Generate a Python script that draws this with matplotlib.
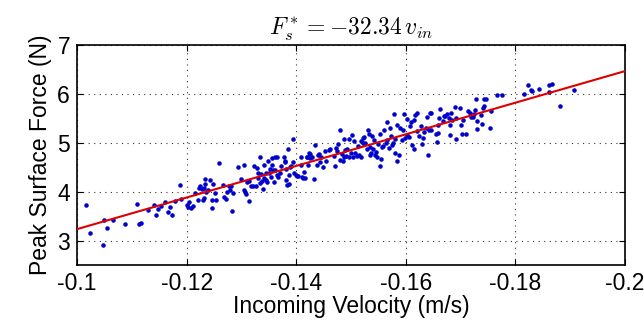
import matplotlib
matplotlib.use("Agg")
import matplotlib.pyplot as plt
import numpy as np

plt.rcParams['font.family'] = ['Liberation Sans', 'DejaVu Sans']
plt.rcParams['mathtext.fontset'] = 'cm'
plt.rcParams['axes.unicode_minus'] = False

# fitted slope of the line
slope = -32.34

# measured points: incoming velocity (m/s) and peak surface force (N)
velocity = -np.array([
    0.1016, 0.1024, 0.1047, 0.1050, 0.1055, 0.1066, 0.1087, 0.1110, 0.1114, 0.1116,
    0.1130, 0.1141, 0.1145, 0.1148, 0.1153, 0.1161, 0.1166, 0.1169, 0.1173, 0.1179,
    0.1187, 0.1189, 0.1200, 0.1203, 0.1205, 0.1208, 0.1212, 0.1215, 0.1220, 0.1223,
    0.1225, 0.1228, 0.1230, 0.1231, 0.1232, 0.1233, 0.1234, 0.1236, 0.1239, 0.1243,
    0.1246, 0.1247, 0.1249, 0.1251, 0.1254, 0.1259, 0.1266, 0.1268, 0.1272, 0.1273,
    0.1277, 0.1279, 0.1281, 0.1283, 0.1285, 0.1294, 0.1300, 0.1304, 0.1305, 0.1306,
    0.1309, 0.1311, 0.1313, 0.1314, 0.1317, 0.1322, 0.1323, 0.1326, 0.1328, 0.1330,
    0.1331, 0.1333, 0.1334, 0.1336, 0.1338, 0.1339, 0.1341, 0.1342, 0.1344, 0.1345,
    0.1347, 0.1349, 0.1351, 0.1352, 0.1354, 0.1355, 0.1356, 0.1357, 0.1360, 0.1361,
    0.1362, 0.1364, 0.1365, 0.1367, 0.1370, 0.1372, 0.1378, 0.1379, 0.1380, 0.1381,
    0.1382, 0.1383, 0.1385, 0.1386, 0.1387, 0.1389, 0.1391, 0.1394, 0.1395, 0.1396,
    0.1399, 0.1402, 0.1404, 0.1408, 0.1409, 0.1411, 0.1413, 0.1415, 0.1416, 0.1419,
    0.1420, 0.1421, 0.1423, 0.1425, 0.1426, 0.1428, 0.1432, 0.1434, 0.1437, 0.1439,
    0.1441, 0.1443, 0.1446, 0.1449, 0.1453, 0.1455, 0.1459, 0.1462, 0.1468, 0.1470,
    0.1472, 0.1475, 0.1477, 0.1479, 0.1480, 0.1483, 0.1485, 0.1487, 0.1488, 0.1489,
    0.1491, 0.1493, 0.1496, 0.1497, 0.1500, 0.1502, 0.1504, 0.1506, 0.1508, 0.1510,
    0.1513, 0.1515, 0.1518, 0.1519, 0.1521, 0.1522, 0.1524, 0.1526, 0.1529, 0.1531,
    0.1532, 0.1534, 0.1535, 0.1536, 0.1538, 0.1540, 0.1542, 0.1544, 0.1546, 0.1547,
    0.1549, 0.1552, 0.1553, 0.1555, 0.1557, 0.1559, 0.1561, 0.1563, 0.1565, 0.1566,
    0.1570, 0.1571, 0.1572, 0.1574, 0.1577, 0.1578, 0.1580, 0.1581, 0.1583, 0.1584,
    0.1587, 0.1590, 0.1593, 0.1595, 0.1597, 0.1599, 0.1602, 0.1603, 0.1606, 0.1608,
    0.1610, 0.1611, 0.1614, 0.1615, 0.1617, 0.1620, 0.1621, 0.1624, 0.1627, 0.1629,
    0.1631, 0.1633, 0.1636, 0.1638, 0.1640, 0.1642, 0.1644, 0.1645, 0.1646, 0.1655,
    0.1657, 0.1658, 0.1659, 0.1661, 0.1663, 0.1668, 0.1670, 0.1672, 0.1675, 0.1678,
    0.1680, 0.1681, 0.1682, 0.1684, 0.1689, 0.1691, 0.1692, 0.1699, 0.1701, 0.1702,
    0.1705, 0.1709, 0.1714, 0.1717, 0.1719, 0.1722, 0.1725, 0.1727, 0.1728, 0.1729,
    0.1730, 0.1738, 0.1739, 0.1740, 0.1742, 0.1743, 0.1746, 0.1753, 0.1755, 0.1766,
    0.1776, 0.1815, 0.1822, 0.1828, 0.1831, 0.1843, 0.1861, 0.1862, 0.1866, 0.1882,
    0.1907])

force = np.array([
    3.72, 3.16, 2.90, 3.42, 3.26, 3.43, 3.33, 3.75, 3.34, 3.36,
    3.63, 3.73, 3.52, 3.65, 3.71, 3.78, 3.59, 3.68, 3.53, 3.81,
    4.14, 3.85, 3.72, 3.68, 3.78, 3.66, 3.70, 3.97, 3.82, 4.07,
    4.11, 4.05, 3.83, 3.88, 4.07, 4.15, 4.26, 3.99, 4.04, 4.23,
    3.66, 3.82, 4.16, 3.98, 3.83, 4.58, 4.14, 3.90, 3.85, 3.99,
    4.11, 4.04, 4.11, 3.61, 3.98, 4.51, 4.26, 4.04, 4.55, 4.00,
    3.96, 4.19, 3.81, 4.22, 4.11, 4.11, 4.52, 4.11, 4.48, 4.28,
    4.38, 4.17, 4.70, 4.36, 4.21, 4.05, 4.54, 4.28, 4.23, 4.38,
    4.19, 4.62, 4.38, 4.46, 4.31, 4.68, 4.55, 4.45, 4.19, 4.70,
    4.45, 4.70, 4.34, 4.31, 4.38, 4.53, 4.70, 4.60, 4.63, 4.47,
    4.24, 4.13, 4.88, 4.16, 4.34, 4.50, 4.53, 4.60, 5.07, 4.38,
    4.34, 4.33, 4.33, 4.71, 4.55, 4.31, 4.28, 4.40, 4.29, 4.71,
    4.70, 4.55, 4.80, 4.69, 4.77, 4.72, 4.25, 4.96, 4.54, 4.76,
    4.78, 4.60, 4.70, 4.51, 4.83, 4.63, 4.86, 4.87, 4.73, 4.53,
    4.89, 4.83, 4.97, 5.27, 4.64, 4.77, 4.62, 4.70, 5.07, 4.85,
    4.73, 4.87, 5.07, 4.72, 4.79, 5.17, 4.70, 5.03, 4.80, 4.73,
    4.94, 4.75, 4.70, 5.04, 5.09, 5.00, 5.11, 4.99, 4.88, 5.27,
    5.18, 4.76, 4.91, 4.80, 5.13, 4.87, 5.05, 4.75, 4.82, 4.70,
    4.98, 4.53, 5.19, 4.66, 4.92, 4.94, 5.27, 4.99, 5.06, 5.42,
    4.90, 5.30, 5.13, 4.96, 5.00, 5.58, 4.79, 5.07, 4.63, 5.37,
    4.75, 5.31, 5.06, 5.26, 5.58, 5.09, 5.48, 5.17, 5.11, 5.35,
    5.43, 4.96, 5.47, 4.87, 5.57, 5.62, 5.25, 5.14, 5.34, 4.97,
    5.09, 5.22, 5.30, 5.52, 4.76, 5.27, 5.61, 5.26, 5.61, 5.18,
    5.02, 5.21, 5.37, 5.51, 5.70, 5.44, 5.55, 5.55, 5.58, 5.50,
    5.17, 5.37, 5.62, 5.46, 5.74, 5.07, 5.50, 5.71, 5.37, 5.18,
    5.47, 5.18, 5.65, 5.62, 5.52, 5.52, 5.58, 5.67, 5.90, 5.29,
    5.45, 5.57, 5.39, 5.71, 5.75, 5.90, 5.90, 5.31, 5.65, 5.98,
    5.97, 5.99, 6.18, 6.08, 6.06, 6.10, 6.05, 6.18, 6.20, 5.75,
    6.08])

x_ticks = [-0.1, -0.12, -0.14, -0.16, -0.18, -0.2]
x_labels = ['-0.1', '-0.12', '-0.14', '-0.16', '-0.18', '-0.2']
y_ticks = [3, 4, 5, 6, 7]

fig = plt.figure(figsize=(6.44, 3.22), dpi=100)
ax = fig.add_axes([0.1196, 0.177, 0.851, 0.683])

# fit line over the whole x range
x_line = np.array([-0.1, -0.2])
ax.plot(x_line, slope * x_line, color='#dd0000', linewidth=1.5, zorder=3)
ax.plot(velocity, force, '.', color='#0000cc', markersize=4.5, zorder=2)

ax.set_xlim(-0.1, -0.2)
ax.set_ylim(2.5, 7)
ax.set_xticks(x_ticks)
ax.set_xticklabels(x_labels)
ax.set_yticks(y_ticks)
ax.grid(True, linestyle=(0, (1, 4)), color='k', linewidth=0.8, alpha=0.8)
ax.tick_params(direction='in', top=True, right=True, length=4, labelsize=16.5, pad=5)
for s in ax.spines.values():
    s.set_linewidth(1.2)

ax.set_xlabel('Incoming Velocity (m/s)', fontsize=16.5, labelpad=0)
ax.set_ylabel('Peak Surface Force (N)', fontsize=16.5, labelpad=4)
ax.set_title(r'$F_s^* = -32.34\,v_{in}$', fontsize=17, pad=7)

fig.savefig('out.png', dpi=100)
